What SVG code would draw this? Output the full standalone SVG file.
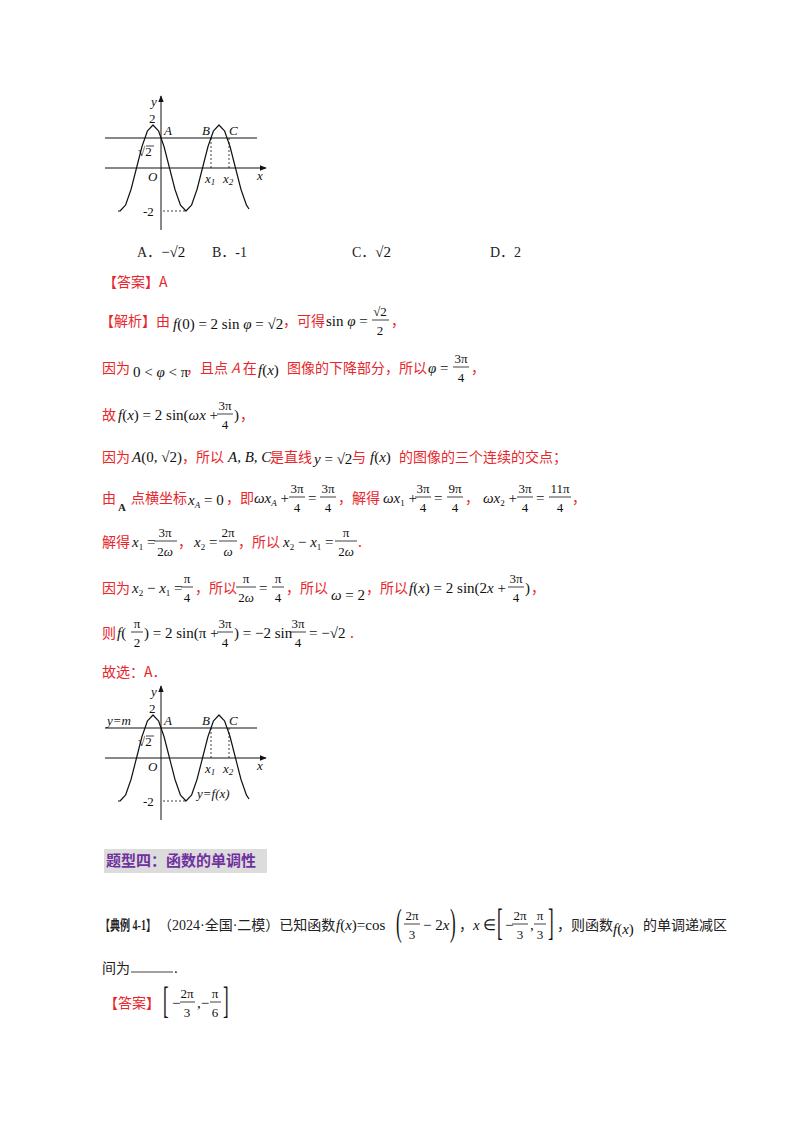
<svg xmlns="http://www.w3.org/2000/svg" width="800" height="1132" viewBox="0 0 800 1132">
<style>
.r{fill:#e8262c;font-family:"Noto Sans CJK SC",sans-serif;font-size:14px}
.k{fill:#222;font-family:"Liberation Serif","Noto Sans CJK SC",serif;font-size:14px}
.m{fill:#111;font-family:"Liberation Serif",serif;font-size:15px}
.big{fill:#111;font-family:"Liberation Serif",serif;font-size:17px;font-weight:normal}
.i{font-style:italic}
.f{fill:#111;font-family:"Liberation Serif",serif;font-size:13px;text-anchor:middle}
.g{fill:#111;font-family:"Liberation Serif",serif;font-size:13px}
.ax{stroke:#111;stroke-width:1;fill:none}
.cv{stroke:#111;stroke-width:1.2;fill:none;stroke-linejoin:round}
.d{stroke:#111;stroke-width:0.8;stroke-dasharray:2,2;fill:none}
.b{stroke:#111;stroke-width:0.8}
</style>
<defs>
<marker id="ar" viewBox="0 0 10 10" refX="9" refY="5" markerWidth="7" markerHeight="7" orient="auto"><path d="M0,1 L10,5 L0,9 z" fill="#111"/></marker>
<g id="graph">
<line class="ax" x1="161" y1="230" x2="161" y2="96" marker-end="url(#ar)"/>
<line class="ax" x1="105" y1="168" x2="266" y2="168" marker-end="url(#ar)"/>
<line class="ax" x1="105" y1="138" x2="257" y2="138"/>
<polyline class="cv" points="118,211 120,211 125.5,205.2 131,189.5 136.5,168 142,146.5 147.5,130.8 153,125 158.5,130.8 164,146.5 169.5,168 175,189.5 180.5,205.2 186,211 191.5,205.2 197,189.5 202.5,168 208,146.5 213.5,130.8 219,125 224.5,130.8 230,146.5 235.5,168 241,189.5 246.5,205.2 249,209"/>
<line class="d" x1="163" y1="211" x2="186" y2="211"/>
<line class="d" x1="211" y1="138" x2="211" y2="168"/>
<line class="d" x1="229" y1="138" x2="229" y2="168"/>
<text class="g i" x="151" y="106">y</text>
<text class="g" x="149" y="123">2</text>
<text class="g i" x="164" y="135">A</text>
<text class="g i" x="202" y="135">B</text>
<text class="g i" x="229" y="135">C</text>
<text class="g" x="138" y="156">√2</text>
<line class="b" x1="146" y1="146" x2="154" y2="146"/>
<text class="g i" x="148" y="181">O</text>
<text class="g i" x="205" y="183">x<tspan font-size="9" dy="2">1</tspan></text>
<text class="g i" x="223" y="183">x<tspan font-size="9" dy="2">2</tspan></text>
<text class="g i" x="257" y="180">x</text>
<text class="g" x="143" y="216">-2</text>
</g>
</defs>
<rect width="800" height="1132" fill="#fff"/>
<g id="graph1"><use href="#graph"/></g>
<g id="graph2"><use href="#graph" y="590"/>
<text class="g i" x="107" y="725">y=m</text>
<text class="g i" x="197" y="798">y=f(x)</text></g>

<g id="options">
<text class="k" x="137" y="257">A．<tspan class="m">−√2</tspan></text>
<text class="k" x="212" y="257">B．-1</text>
<text class="k" x="352" y="257">C．<tspan class="m">√2</tspan></text>
<text class="k" x="490" y="257">D．2</text>
</g>
<text class="r" x="103" y="287">【答案】A</text>

<g id="l1">
<text class="r" x="100" y="326">【解析】由</text>
<text class="m" x="173" y="329"><tspan class="i">f</tspan>(0) = 2 sin <tspan class="i">φ</tspan> = √2</text>
<text class="r" x="283" y="326">，可得</text>
<text class="m" x="326" y="326">sin <tspan class="i">φ</tspan> =</text>
<text class="f" x="380" y="316">√2</text><line class="b" x1="372" y1="320" x2="389" y2="320"/><text class="f" x="380" y="335">2</text>
<text class="r" x="391" y="326">，</text>
</g>
<g id="l2">
<text class="r" x="102" y="373">因为</text>
<text class="m" x="133" y="377">0 &lt; <tspan class="i">φ</tspan> &lt; π</text>
<text class="r" x="186" y="373">，且点 <tspan class="i">A</tspan> 在</text>
<text class="m" x="258" y="375"><tspan class="i">f</tspan>(<tspan class="i">x</tspan>)</text>
<text class="r" x="287" y="373">图像的下降部分，所以</text>
<text class="m i" x="428" y="373">φ <tspan font-style="normal">=</tspan></text>
<text class="f" x="461" y="363">3π</text><line class="b" x1="453" y1="367" x2="469" y2="367"/><text class="f" x="461" y="382">4</text>
<text class="r" x="471" y="373">，</text>
</g>
<g id="l3">
<text class="r" x="102" y="420">故</text>
<text class="m" x="118" y="420"><tspan class="i">f</tspan>(<tspan class="i">x</tspan>) = 2 sin(<tspan class="i">ωx</tspan> +</text>
<text class="f" x="225" y="410">3π</text><line class="b" x1="217" y1="414" x2="233" y2="414"/><text class="f" x="225" y="429">4</text>
<text class="m" x="234" y="420">)</text><text class="r" x="240" y="420">，</text>
</g>
<g id="l4">
<text class="r" x="102" y="462">因为</text>
<text class="m" x="132" y="462"><tspan class="i">A</tspan>(0, √2)</text>
<text class="r" x="182" y="462">，所以</text>
<text class="m i" x="228" y="462">A, B, C</text>
<text class="r" x="270" y="462">是直线</text>
<text class="m" x="314" y="464"><tspan class="i">y</tspan> = √2</text>
<text class="r" x="352" y="462">与</text>
<text class="m" x="370" y="462"><tspan class="i">f</tspan>(<tspan class="i">x</tspan>)</text>
<text class="r" x="399" y="462">的图像的三个连续的交点；</text>
</g>
<g id="l5">
<text class="r" x="102" y="503">由</text>
<text x="118" y="511" style="fill:#222;font-family:'Liberation Serif',serif;font-size:11px;font-weight:bold">A</text>
<text class="r" x="131" y="503">点横坐标</text>
<text class="m" x="188" y="505"><tspan class="i">x<tspan font-size="9" dy="3">A</tspan></tspan><tspan dy="-3"> = 0</tspan></text>
<text class="r" x="226" y="503">，即</text>
<text class="m" x="254" y="503"><tspan class="i">ωx<tspan font-size="9" dy="3">A</tspan></tspan><tspan dy="-3"> +</tspan></text>
<text class="f" x="297" y="493">3π</text><line class="b" x1="289" y1="497" x2="305" y2="497"/><text class="f" x="297" y="512">4</text>
<text class="m" x="308" y="503">=</text>
<text class="f" x="328" y="493">3π</text><line class="b" x1="320" y1="497" x2="336" y2="497"/><text class="f" x="328" y="512">4</text>
<text class="r" x="338" y="503">，解得</text>
<text class="m" x="383" y="503"><tspan class="i">ωx</tspan><tspan font-size="9" dy="3">1</tspan><tspan dy="-3"> +</tspan></text>
<text class="f" x="423" y="493">3π</text><line class="b" x1="415" y1="497" x2="431" y2="497"/><text class="f" x="423" y="512">4</text>
<text class="m" x="434" y="503">=</text>
<text class="f" x="455" y="493">9π</text><line class="b" x1="447" y1="497" x2="463" y2="497"/><text class="f" x="455" y="512">4</text>
<text class="r" x="465" y="503">，</text>
<text class="m" x="483" y="503"><tspan class="i">ωx</tspan><tspan font-size="9" dy="3">2</tspan><tspan dy="-3"> +</tspan></text>
<text class="f" x="525" y="493">3π</text><line class="b" x1="517" y1="497" x2="533" y2="497"/><text class="f" x="525" y="512">4</text>
<text class="m" x="536" y="503">=</text>
<text class="f" x="560" y="493">11π</text><line class="b" x1="549" y1="497" x2="571" y2="497"/><text class="f" x="560" y="512">4</text>
<text class="r" x="572" y="503">，</text>
</g>
<g id="l6">
<text class="r" x="102" y="547">解得</text>
<text class="m" x="132" y="547"><tspan class="i">x</tspan><tspan font-size="9" dy="3">1</tspan><tspan dy="-3"> =</tspan></text>
<text class="f" x="165" y="537">3π</text><line class="b" x1="154" y1="541" x2="177" y2="541"/><text class="f" x="165" y="556">2<tspan class="i">ω</tspan></text>
<text class="r" x="178" y="547">，</text>
<text class="m" x="194" y="547"><tspan class="i">x</tspan><tspan font-size="9" dy="3">2</tspan><tspan dy="-3"> =</tspan></text>
<text class="f" x="228" y="537">2π</text><line class="b" x1="219" y1="541" x2="237" y2="541"/><text class="f i" x="228" y="556">ω</text>
<text class="r" x="238" y="547">，所以</text>
<text class="m" x="283" y="547"><tspan class="i">x</tspan><tspan font-size="9" dy="3">2</tspan><tspan dy="-3"> − </tspan><tspan class="i">x</tspan><tspan font-size="9" dy="3">1</tspan><tspan dy="-3"> =</tspan></text>
<text class="f" x="346" y="537">π</text><line class="b" x1="335" y1="541" x2="357" y2="541"/><text class="f" x="346" y="556">2<tspan class="i">ω</tspan></text>
<text class="r" x="358" y="547">.</text>
</g>
<g id="l7">
<text class="r" x="102" y="593">因为</text>
<text class="m" x="132" y="593"><tspan class="i">x</tspan><tspan font-size="9" dy="3">2</tspan><tspan dy="-3"> − </tspan><tspan class="i">x</tspan><tspan font-size="9" dy="3">1</tspan><tspan dy="-3"> =</tspan></text>
<text class="f" x="187" y="583">π</text><line class="b" x1="181" y1="587" x2="193" y2="587"/><text class="f" x="187" y="602">4</text>
<text class="r" x="195" y="593">，所以</text>
<text class="f" x="246" y="583">π</text><line class="b" x1="236" y1="587" x2="256" y2="587"/><text class="f" x="246" y="602">2<tspan class="i">ω</tspan></text>
<text class="m" x="259" y="593">=</text>
<text class="f" x="278" y="583">π</text><line class="b" x1="272" y1="587" x2="284" y2="587"/><text class="f" x="278" y="602">4</text>
<text class="r" x="286" y="593">，所以</text>
<text class="m" x="331" y="600"><tspan class="i">ω</tspan> = 2</text>
<text class="r" x="366" y="593">，所以</text>
<text class="m" x="409" y="593"><tspan class="i">f</tspan>(<tspan class="i">x</tspan>) = 2 sin(2<tspan class="i">x</tspan> +</text>
<text class="f" x="516" y="583">3π</text><line class="b" x1="508" y1="587" x2="524" y2="587"/><text class="f" x="516" y="602">4</text>
<text class="m" x="525" y="593">)</text><text class="r" x="531" y="593">，</text>
</g>
<g id="l8">
<text class="r" x="102" y="638">则</text>
<text class="m" x="117" y="638"><tspan class="i">f</tspan>(</text>
<text class="f" x="137" y="628">π</text><line class="b" x1="131" y1="632" x2="143" y2="632"/><text class="f" x="137" y="647">2</text>
<text class="m" x="144" y="638">) = 2 sin(π +</text>
<text class="f" x="225" y="628">3π</text><line class="b" x1="217" y1="632" x2="233" y2="632"/><text class="f" x="225" y="647">4</text>
<text class="m" x="234" y="638">) = −2 sin</text>
<text class="f" x="298" y="628">3π</text><line class="b" x1="290" y1="632" x2="306" y2="632"/><text class="f" x="298" y="647">4</text>
<text class="m" x="309" y="638">= −√2</text>
<text class="r" x="350" y="638">.</text>
</g>
<text class="r" x="102" y="677">故选：A．</text>

<g id="heading">
<rect x="104" y="849" width="163" height="24" fill="#dcdcdc"/>
<text x="106" y="866" fill="#7030a0" font-family="'Noto Sans CJK SC',sans-serif" font-size="15" font-weight="bold">题型四：函数的单调性</text>
</g>
<g id="example">
<text class="k" x="100" y="930" font-weight="bold" textLength="56" lengthAdjust="spacingAndGlyphs">【典例 4-1】</text>
<text class="k" x="158" y="930">（2024·全国·二模）已知函数</text>
<text class="m" x="336" y="930"><tspan class="i">f</tspan>(<tspan class="i">x</tspan>)=cos</text>
<text class="big" transform="translate(396,935) scale(1,2.2)">(</text>
<text class="f" x="412" y="920">2π</text><line class="b" x1="404" y1="924" x2="420" y2="924"/><text class="f" x="412" y="939">3</text>
<text class="m" x="423" y="930">− 2<tspan class="i">x</tspan></text>
<text class="big" transform="translate(450,935) scale(1,2.2)">)</text>
<text class="k" x="459" y="930">，</text>
<text class="m" x="473" y="930"><tspan class="i">x</tspan> ∈</text>
<text class="big" transform="translate(497,935) scale(1,2.2)">[</text>
<text class="m" x="505" y="930">−</text>
<text class="f" x="520" y="920">2π</text><line class="b" x1="512" y1="924" x2="528" y2="924"/><text class="f" x="520" y="939">3</text>
<text class="m" x="530" y="930">,</text>
<text class="f" x="540" y="920">π</text><line class="b" x1="534" y1="924" x2="546" y2="924"/><text class="f" x="540" y="939">3</text>
<text class="big" transform="translate(548,935) scale(1,2.2)">]</text>
<text class="k" x="557" y="930">，则函数</text>
<text class="m" x="613" y="934"><tspan class="i">f</tspan>(<tspan class="i">x</tspan>)</text>
<text class="k" x="643" y="930">的单调递减区</text>
<text class="k" x="102" y="973">间为</text>
<line class="b" x1="131" y1="972" x2="173" y2="972" stroke-width="1.2"/>
<text class="m" x="174" y="973">.</text>
<text class="r" x="104" y="1008">【答案】</text>
<text class="big" transform="translate(163,1013) scale(1,2.2)">[</text>
<text class="m" x="172" y="1008">−</text>
<text class="f" x="187" y="998">2π</text><line class="b" x1="180" y1="1002" x2="195" y2="1002"/><text class="f" x="187" y="1017">3</text>
<text class="m" x="197" y="1008">,−</text>
<text class="f" x="215" y="998">π</text><line class="b" x1="210" y1="1002" x2="221" y2="1002"/><text class="f" x="215" y="1017">6</text>
<text class="big" transform="translate(223,1013) scale(1,2.2)">]</text>
</g>
</svg>
